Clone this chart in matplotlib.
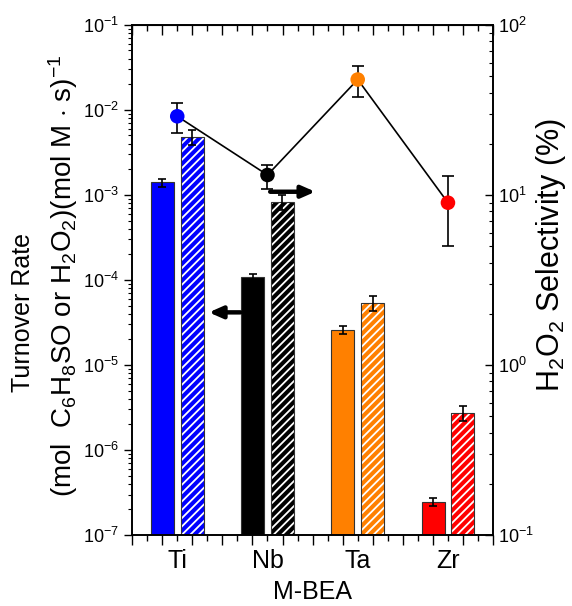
import numpy as np
import matplotlib
matplotlib.use('Agg')
import matplotlib.pyplot as plt
from matplotlib.ticker import LogLocator, NullFormatter, FixedLocator

plt.rcParams['font.family'] = ['Liberation Sans', 'DejaVu Sans']
plt.rcParams['mathtext.fontset'] = 'custom'
plt.rcParams['mathtext.rm'] = 'Liberation Sans'
plt.rcParams['mathtext.it'] = 'Liberation Sans:italic'
plt.rcParams['hatch.linewidth'] = 1.3

# data
metals = ['Ti', 'Nb', 'Ta', 'Zr']
colors = ['#0000ff', '#000000', '#ff8000', '#ff0000']

# turnover rate, sulfoxide (solid bars)
rate_solid = [1.41e-3, 1.09e-4, 2.56e-5, 2.48e-7]
rate_solid_lo = [1.25e-3, 9.95e-5, 2.31e-5, 2.20e-7]
rate_solid_hi = [1.54e-3, 1.19e-4, 2.86e-5, 2.74e-7]

# turnover rate, H2O2 decomposition (hatched bars)
rate_hatch = [4.81e-3, 8.28e-4, 5.36e-5, 2.72e-6]
rate_hatch_lo = [3.85e-3, 6.70e-4, 4.29e-5, 2.19e-6]
rate_hatch_hi = [5.75e-3, 9.90e-4, 6.47e-5, 3.31e-6]

# H2O2 selectivity (%)
select = [29.0, 13.1, 47.7, 9.0]
select_lo = [23.0, 10.9, 37.6, 5.0]
select_hi = [34.8, 15.0, 57.5, 13.0]

x = np.arange(1, len(metals) + 1)
w = 0.255
off = 0.165

fig = plt.figure(figsize=(5.72, 6.06), dpi=100)
ax = fig.add_axes([0.231, 0.117, 0.631, 0.842])

def yerr(v, lo, hi):
    v = np.array(v); return [v - np.array(lo), np.array(hi) - v]

# solid bars
ax.bar(x - off, rate_solid, w, color=colors, edgecolor='#333333', linewidth=0.8, zorder=2)
ax.errorbar(x - off, rate_solid, yerr=yerr(rate_solid, rate_solid_lo, rate_solid_hi),
            fmt='none', ecolor='black', elinewidth=1.2, capsize=3, capthick=1.2, zorder=3)

# hatched bars: coloured base + white hatch, then outline
ax.bar(x + off, rate_hatch, w, color=colors, edgecolor='white', hatch='////', linewidth=0, zorder=2)
ax.bar(x + off, rate_hatch, w, fill=False, edgecolor='#333333', linewidth=0.8, zorder=2)
ax.errorbar(x + off, rate_hatch, yerr=yerr(rate_hatch, rate_hatch_lo, rate_hatch_hi),
            fmt='none', ecolor='black', elinewidth=1.2, capsize=3, capthick=1.2, zorder=3)

ax.set_yscale('log')
ax.set_ylim(1e-7, 1e-1)
ax.set_xlim(0.5, 4.5)

# x ticks: long ticks at bar centres and between groups, labels at group centres
major = np.arange(0.5, 4.51, 1 / 3)
minor = major[:-1] + 1 / 6
ax.xaxis.set_major_locator(FixedLocator(major))
ax.xaxis.set_minor_locator(FixedLocator(minor))
ax.set_xticklabels([])
minor_labels = [metals[int(round(m)) - 1] if abs(m - round(m)) < 0.01 else '' for m in minor]
ax.set_xticklabels(minor_labels, minor=True, fontsize=18)
ax.tick_params(axis='x', which='major', direction='out', length=7, width=1)
ax.tick_params(axis='x', which='minor', direction='out', length=4, width=1, pad=6)

top = ax.secondary_xaxis('top')
top.xaxis.set_major_locator(FixedLocator(major))
top.xaxis.set_minor_locator(FixedLocator(minor))
top.tick_params(axis='x', which='major', direction='in', length=7, width=1, labeltop=False)
top.tick_params(axis='x', which='minor', direction='in', length=4, width=1)
top.set_xticklabels([])

ax.yaxis.set_major_locator(LogLocator(base=10, numticks=10))
ax.yaxis.set_minor_locator(LogLocator(base=10, subs=np.arange(2, 10), numticks=10))
ax.yaxis.set_minor_formatter(NullFormatter())
ax.tick_params(axis='y', which='major', direction='out', length=6, width=1, labelsize=13)
ax.tick_params(axis='y', which='minor', direction='out', length=3, width=0.8)

ax.set_xlabel('M-BEA', fontsize=18, labelpad=5)

# two-line y label (second line is set larger, as in the original)
fig.text(23 / 572, 1 - 312 / 606, 'Turnover Rate', rotation=90, fontsize=18,
         ha='center', va='center')
fig.text(63 / 572, 1 - 276 / 606,
         '(mol  C$_6$H$_8$SO or H$_2$O$_2$)(mol M $\\cdot$ s)$^{-1}$',
         rotation=90, fontsize=20, ha='center', va='center')

# arrows pointing to each axis
ax.annotate('', xy=(2.53, 1.09e-3), xytext=(2.03, 1.09e-3),
            arrowprops=dict(arrowstyle='-|>,head_length=0.5,head_width=0.22', lw=3.2,
                            color='black', mutation_scale=16, shrinkA=0, shrinkB=0), zorder=4)
ax.annotate('', xy=(1.35, 4.16e-5), xytext=(1.70, 4.16e-5),
            arrowprops=dict(arrowstyle='-|>,head_length=0.5,head_width=0.22', lw=3.2,
                            color='black', mutation_scale=16, shrinkA=0, shrinkB=0), zorder=4)

for s in ax.spines.values():
    s.set_linewidth(1.2)

# selectivity on right axis
ax2 = ax.twinx()
ax2.plot(x, select, color='black', linewidth=1.2, zorder=2)
ax2.errorbar(x, select, yerr=yerr(select, select_lo, select_hi), fmt='none',
             ecolor='black', elinewidth=1.2, capsize=4, capthick=1.2, zorder=3)
ax2.scatter(x, select, s=110, c=colors, zorder=4, linewidths=0)
ax2.set_yscale('log')
ax2.set_ylim(0.1, 100)
ax2.yaxis.set_major_locator(LogLocator(base=10, numticks=10))
ax2.yaxis.set_minor_locator(LogLocator(base=10, subs=np.arange(2, 10), numticks=10))
ax2.yaxis.set_minor_formatter(NullFormatter())
ax2.tick_params(axis='y', which='major', direction='in', length=6, width=1, labelsize=13)
ax2.tick_params(axis='y', which='minor', direction='in', length=3, width=0.8)
for s in ax2.spines.values():
    s.set_linewidth(1.2)

fig.text(551 / 572, 1 - 255 / 606, 'H$_2$O$_2$ Selectivity (%)', rotation=90, fontsize=22,
         ha='center', va='center')

plt.savefig('out.png', dpi=100)
